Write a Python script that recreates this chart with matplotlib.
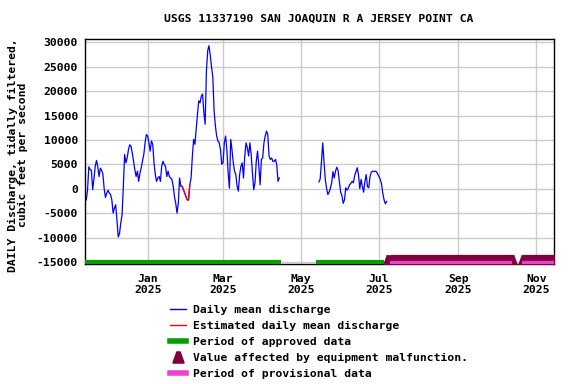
import numpy as np
import pandas as pd
import matplotlib
matplotlib.use("Agg")
import matplotlib.pyplot as plt
from matplotlib.lines import Line2D
from matplotlib.path import Path

# daily mean discharge, cfs (tidally filtered)
seg1_start = "2024-11-14"
seg1_q = [
    -2300, -200, 4500, 3900, 3800, -200, 2000, 4600, 5800, 4500,
    2500, 4200, 3800, 3000, 0, -1800, -900, -300, -900, -1200,
    -2300, -5000, -4000, -3300, -6400, -9900, -9200, -7000, -5400, 500,
    7000, 5300, 6300, 8000, 9000, 8700, 7300, 5600, 3900, 2500,
    3600, 1500, 3200, 4300, 5600, 7000, 9400, 11100, 10800, 9400,
    7700, 9800, 9100, 5300, 2900, 1500, 2200, 2500, 1500, 4600,
    5600, 5000, 4600, 2500, 3600, 2500, 2200, 1900, 500, -1600,
    -3000, -5000, -3000, 2200, 500, 500, -200, -900, -1600, -2300,
    -2300, 800, 2200, 6700, 10100, 9100, 12200, 15300, 18000, 17600,
    19000, 19400, 15600, 13200, 24100, 28300, 29300, 27300, 24900, 22900,
    16000, 12900, 10800, 9800, 9400, 8000, 5000, 5300, 9400, 10800,
    8000, 3200, 100, 10100, 8000, 5300, 3600, 2900, 500, -500,
    2900, 4600, 5300, 2200, 6700, 9400, 8400, 6700, 9400, 7000,
    3200, -200, 1200, 5600, 7700, 4600, 800, 6000, 6300, 9400,
    10800, 11800, 11100, 6700, 6000, 6300, 5600, 5600, 6000, 5000,
    1500, 2200,
]
seg2_start = "2025-05-15"
seg2_q = [
    1400, 2000, 5500, 9400, 5500, 1900, 100, -1200, -700, 100,
    1200, 3500, 2200, 3600, 4400, 3700, 1500, -700, -1400, -3000,
    -2300, 200, -300, 100, 800, 1100, 1500, 1200, 2700, 3500,
    4300, 2800, 0, 1900, 500, -700, 1500, 2900, 400, 200,
    2500, 3400, 3600, 3500, 3600, 3500, 3000, 2500, 1900, 1000,
    -1000, -2300, -3100, -2600,
]
est_start, est_end = "2025-01-28", "2025-02-03"

approved = [("2024-11-10", "2025-04-15"), ("2025-05-13", "2025-07-05")]
provisional = [("2025-07-10", "2025-10-13"), ("2025-10-21", "2025-11-20")]
malfunction = [("2025-07-08", "2025-07-08"), ("2025-07-11", "2025-10-13"),
               ("2025-10-22", "2025-11-16")]

yticks = list(range(-15000, 30001, 5000))
xticks = ["2025-01-01", "2025-03-01", "2025-05-01", "2025-07-01",
          "2025-09-01", "2025-11-01"]
xlabels = ["Jan\n2025", "Mar\n2025", "May\n2025", "Jul\n2025",
           "Sep\n2025", "Nov\n2025"]

BLUE, RED, GREEN = "#0000ff", "#ff0000", "#00a000"
PINK, MAROON = "#f040d0", "#800040"
FONT = dict(family="DejaVu Sans Mono", weight="bold", size=8.2)

# blunt triangle, like the pixel marker of the original
tri = Path([(-1, -1), (1, -1), (0.3, 1), (-0.3, 1), (-1, -1)],
           [Path.MOVETO, Path.LINETO, Path.LINETO, Path.LINETO, Path.CLOSEPOLY])

s1 = pd.Series(seg1_q, index=pd.date_range(seg1_start, periods=len(seg1_q)))
s2 = pd.Series(seg2_q, index=pd.date_range(seg2_start, periods=len(seg2_q)))
est = s1[est_start:est_end]

fig = plt.figure(figsize=(5.76, 3.84), dpi=100)
ax = fig.add_axes([85 / 576, 1 - 264.3 / 384, 469.3 / 576, 225 / 384])

ax.plot(s1.index, s1.values, color=BLUE, lw=0.9)
ax.plot(s2.index, s2.values, color=BLUE, lw=0.9)
ax.plot(est.index, est.values, color=RED, lw=0.9)

base = -15000
for a, b in approved:
    ax.plot(pd.to_datetime([a, b]), [base, base], color=GREEN, lw=3,
            solid_capstyle="butt", zorder=3)
for a, b in malfunction:
    d = pd.date_range(a, b)
    ax.plot(d, [base + 300] * len(d), ls="none", marker=tri, ms=7.5,
            mfc=MAROON, mec=MAROON, mew=0.5, zorder=4)
for a, b in provisional:
    ax.plot(pd.to_datetime([a, b]), [base - 150, base - 150], color=PINK,
            lw=3, solid_capstyle="butt", zorder=5)

ax.set_xlim(pd.Timestamp("2024-11-13"), pd.Timestamp("2025-11-15 04:00"))
ax.set_ylim(-15490, 30615)
ax.set_yticks(yticks)
ax.set_yticklabels([str(v) for v in yticks], **FONT)
ax.set_xticks(pd.to_datetime(xticks))
ax.set_xticklabels(xlabels, linespacing=1.1, **FONT)
ax.tick_params(length=0, pad=5)
ax.tick_params(axis="x", pad=7)
ax.grid(True, color="#cccccc", lw=1)
ax.set_axisbelow(True)
for sp in ax.spines.values():
    sp.set_linewidth(1)

fig.text(319 / 576, 1 - 19 / 384, "USGS 11337190 SAN JOAQUIN R A JERSEY POINT CA",
         ha="center", va="center", **FONT)
fig.text(18 / 576, 1 - 155 / 384,
         "DAILY Discharge, tidally filtered,\ncubic feet per second",
         rotation=90, ha="center", va="center", multialignment="center",
         linespacing=1.1, **FONT)

handles = [
    Line2D([], [], color=BLUE, lw=1),
    Line2D([], [], color=RED, lw=1),
    Line2D([], [], color=GREEN, lw=4),
    Line2D([], [], ls="none", marker=tri, ms=8, color=MAROON),
    Line2D([], [], color=PINK, lw=4),
]
labels = ["Daily mean discharge", "Estimated daily mean discharge",
          "Period of approved data", "Value affected by equipment malfunction.",
          "Period of provisional data"]
fig.legend(handles, labels, loc="upper left",
           bbox_to_anchor=(170 / 576, 1 - 305 / 384), frameon=False,
           prop=dict(family="DejaVu Sans Mono", weight="bold", size=8.2),
           borderpad=0, borderaxespad=0, handlelength=1.4, handletextpad=0.6,
           labelspacing=0.52)

fig.savefig("out.png", dpi=100)
